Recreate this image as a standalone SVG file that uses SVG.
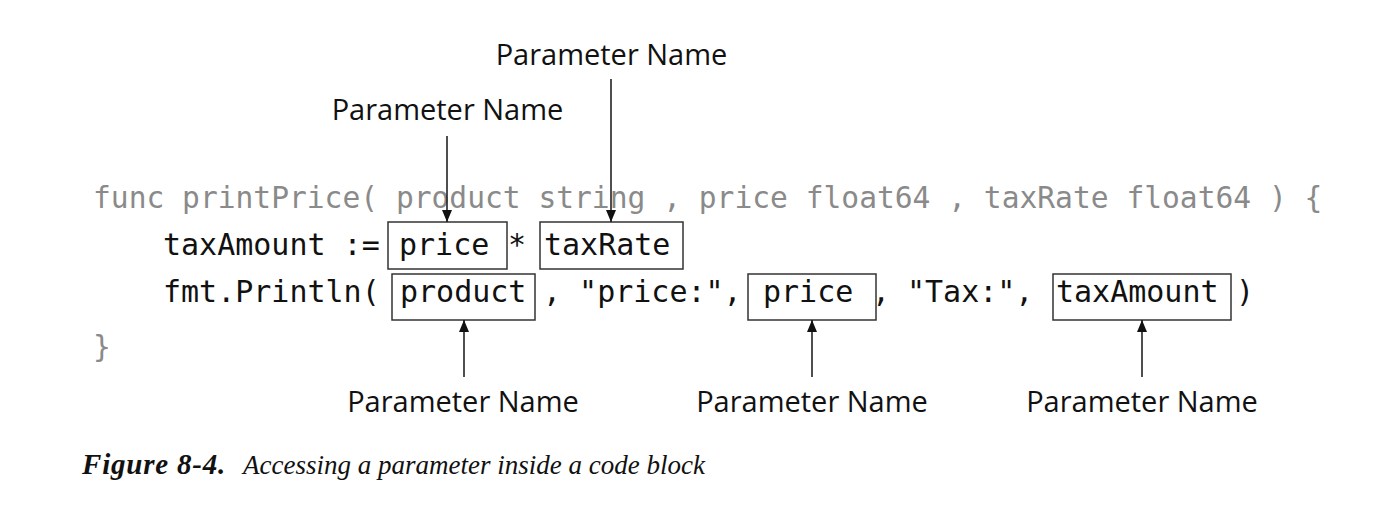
<svg xmlns="http://www.w3.org/2000/svg" width="1396" height="507" viewBox="0 0 1396 507">
<style>
.code{font-family:"DejaVu Sans Mono","Liberation Mono",monospace;font-size:30px;fill:#111}
.gray{fill:#8a8a8a;font-size:29.6px}
.lbl{font-family:"Open Sans","Liberation Sans",sans-serif;font-size:29px;fill:#111;text-anchor:middle}
.box{fill:none;stroke:#333;stroke-width:1.5}
.arr{stroke:#222;stroke-width:1.6;fill:none;marker-end:url(#ah)}
.cap{font-family:"Liberation Serif",serif;font-size:27px;font-style:italic;fill:#111}
</style>
<defs>
<marker id="ah" viewBox="0 0 12 10" refX="12" refY="5" markerWidth="12" markerHeight="10" markerUnits="userSpaceOnUse" orient="auto">
<path d="M0,0 L12,5 L0,10 Z" fill="#111"/>
</marker>
</defs>
<rect width="1396" height="507" fill="#fff"/>
<g id="code">
<text class="code gray" x="93" y="208" xml:space="preserve">func printPrice( product string , price float64 , taxRate float64 ) {</text>
<text class="code" x="163" y="255">taxAmount :=</text>
<text class="code" x="508" y="255">*</text>
<text class="code" x="163" y="302">fmt.Println(</text>
<text class="code" x="543" y="302" xml:space="preserve">, "price:",</text>
<text class="code" x="872" y="302">,</text>
<text class="code" x="907" y="302">"Tax:",</text>
<text class="code" x="1236" y="302">)</text>
<text class="code gray" x="93" y="357">}</text>
</g>
<g id="box-price1"><rect class="box" x="388" y="222" width="119" height="47"/><text class="code" x="399" y="255">price</text></g>
<g id="box-taxRate"><rect class="box" x="540" y="222" width="143" height="47"/><text class="code" x="544" y="255">taxRate</text></g>
<g id="box-product"><rect class="box" x="392" y="274" width="143" height="46"/><text class="code" x="400" y="302">product</text></g>
<g id="box-price2"><rect class="box" x="748" y="274" width="128" height="46"/><text class="code" x="763" y="302">price</text></g>
<g id="box-taxAmount"><rect class="box" x="1053" y="274" width="178" height="46"/><text class="code" x="1056" y="302">taxAmount</text></g>
<g id="labels">
<text class="lbl" x="611.5" y="65">Parameter Name</text>
<text class="lbl" x="447.5" y="120">Parameter Name</text>
<text class="lbl" x="463" y="412">Parameter Name</text>
<text class="lbl" x="812" y="412">Parameter Name</text>
<text class="lbl" x="1142" y="412">Parameter Name</text>
</g>
<g id="connectors">
<line class="arr" x1="447" y1="136" x2="447" y2="222"/>
<line class="arr" x1="611" y1="79" x2="611" y2="222"/>
<line class="arr" x1="464" y1="377" x2="464" y2="320"/>
<line class="arr" x1="812" y1="377" x2="812" y2="320"/>
<line class="arr" x1="1142" y1="377" x2="1142" y2="320"/>
</g>
<g id="caption">
<text class="cap" x="82" y="474"><tspan font-weight="bold" font-size="29" letter-spacing="0.8">Figure 8-4.</tspan><tspan x="243">Accessing a parameter inside a code block</tspan></text>
</g>
</svg>
